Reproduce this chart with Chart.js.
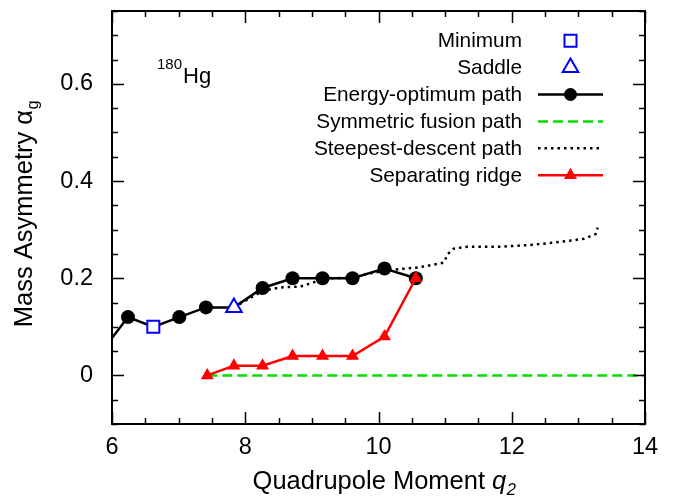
<!DOCTYPE html>
<html><head><meta charset="utf-8">
<script src="https://cdn.jsdelivr.net/npm/chart.js@4/dist/chart.umd.min.js"></script>
<style>html,body{margin:0;padding:0;background:#fff;}canvas{display:block;}</style>
</head><body>
<canvas id="c" width="673" height="497"></canvas>
<script>
// ---- data ----
const energyQ = [5.85, 6.24, 6.62, 7.01, 7.41, 7.83, 8.26, 8.71, 9.16, 9.61, 10.09, 10.56];
const energyA = [0.05, 0.12, 0.10, 0.12, 0.14, 0.14, 0.18, 0.20, 0.20, 0.20, 0.22, 0.20];
const ridgeQ = [7.43, 7.83, 8.26, 8.71, 9.16, 9.61, 10.09, 10.56];
const ridgeA = [0.00, 0.02, 0.02, 0.04, 0.04, 0.04, 0.08, 0.20];
const symQ = [7.43, 14.0];
const symA = [0.0, 0.0];
const steepQ = [7.83, 8.26, 8.53, 8.83, 9.02, 9.13, 9.62, 9.83, 10.08, 10.33, 10.59, 10.98, 11.04, 11.13, 11.34, 11.83, 12.33, 12.74, 13.08, 13.26, 13.29];
const steepA = [0.140, 0.174, 0.181, 0.183, 0.191, 0.199, 0.201, 0.209, 0.215, 0.219, 0.222, 0.232, 0.250, 0.261, 0.265, 0.265, 0.269, 0.275, 0.281, 0.291, 0.304];
const minimumQ = [6.62];
const minimumA = [0.10];
const saddleQ = [7.83];
const saddleA = [0.14];
const xTickLabels = [6, 8, 10, 12, 14];
const yTickLabels = [0, 0.2, 0.4, 0.6];
const xMinorStep = 0.5;
const yMinorStep = 0.05;
const xRange = [6, 14];
const yRange = [-0.1, 0.75];
const legendOrder = ['Minimum', 'Saddle', 'Energy-optimum path', 'Symmetric fusion path', 'Steepest-descent path', 'Separating ridge'];

const FONT = '"Liberation Sans", Arial, Helvetica, sans-serif';
const pts = (xs, ys) => xs.map((x, i) => ({ x: x, y: ys[i] }));
const isSpecial = p => (p.x === minimumQ[0] && p.y === minimumA[0]) || (p.x === saddleQ[0] && p.y === saddleA[0]);

const datasets = [
  { label: 'Minimum', data: pts(minimumQ, minimumA), showLine: false, pointStyle: 'rect',
    pointRadius: 8.5, borderColor: '#0000ff', backgroundColor: '#ffffff', pointBorderWidth: 2, order: 1 },
  { label: 'Saddle', data: pts(saddleQ, saddleA), showLine: false, pointStyle: 'triangle',
    pointRadius: 9, borderColor: '#0000ff', backgroundColor: '#ffffff', pointBorderWidth: 2, order: 0 },
  { label: 'Energy-optimum path', data: pts(energyQ, energyA), showLine: true, borderColor: '#000000',
    backgroundColor: '#000000', borderWidth: 2.5, pointStyle: 'circle', pointBorderWidth: 0,
    pointRadius: c => (c.raw && (c.raw.x < xRange[0] || isSpecial(c.raw))) ? 0 : 7, legendRadius: 6.5, order: 3 },
  { label: 'Symmetric fusion path', data: pts(symQ, symA), showLine: true, borderColor: '#00e000',
    borderWidth: 2.5, borderDash: [10, 5], pointRadius: 0, order: 5 },
  { label: 'Steepest-descent path', data: pts(steepQ, steepA), showLine: true, borderColor: '#000000',
    borderWidth: 2.5, borderDash: [2.5, 4], pointRadius: 0, order: 4 },
  { label: 'Separating ridge', data: pts(ridgeQ, ridgeA), showLine: true, borderColor: '#ff0000',
    backgroundColor: '#ff0000', borderWidth: 2.5, pointStyle: 'triangle', pointRadius: 7.5, pointBorderWidth: 0, order: 2 }
];

function marker(ctx, style, r, x, y, fill, stroke, bw) {
  ctx.save();
  ctx.fillStyle = fill; ctx.strokeStyle = stroke; ctx.lineWidth = bw; ctx.setLineDash([]);
  Chart.helpers.drawPoint(ctx, { pointStyle: style, radius: r, rotation: 0, borderWidth: bw }, x, y);
  ctx.restore();
}

const decor = {
  id: 'decor',
  afterDraw(chart) {
    const ctx = chart.ctx, a = chart.chartArea, xs = chart.scales.x, ys = chart.scales.y;
    ctx.save();
    // frame
    ctx.strokeStyle = '#000'; ctx.lineWidth = 2; ctx.setLineDash([]);
    ctx.strokeRect(a.left, a.top, a.right - a.left, a.bottom - a.top);
    // inward ticks
    ctx.lineWidth = 1.5;
    ctx.beginPath();
    for (let v = xRange[0]; v <= xRange[1] + 1e-9; v += xMinorStep) {
      const px = Math.round(xs.getPixelForValue(v)) + 0.5;
      const major = xTickLabels.some(t => Math.abs(t - v) < 1e-6);
      const len = major ? 12 : 6;
      ctx.moveTo(px, a.bottom); ctx.lineTo(px, a.bottom - len);
      ctx.moveTo(px, a.top); ctx.lineTo(px, a.top + len);
    }
    for (let k = Math.ceil(yRange[0] / yMinorStep); k * yMinorStep <= yRange[1] + 1e-9; k++) {
      const v = k * yMinorStep;
      const py = Math.round(ys.getPixelForValue(v)) + 0.5;
      const major = yTickLabels.some(t => Math.abs(t - v) < 1e-6);
      const len = major ? 12 : 6;
      ctx.moveTo(a.left, py); ctx.lineTo(a.left + len, py);
      ctx.moveTo(a.right, py); ctx.lineTo(a.right - len, py);
    }
    ctx.stroke();

    // x title
    ctx.fillStyle = '#000';
    ctx.textBaseline = 'alphabetic'; ctx.textAlign = 'left';
    const tf = '25.5px ' + FONT, tfi = 'italic 25.5px ' + FONT, tfs = 'italic 16.5px ' + FONT;
    const t1 = 'Quadrupole Moment ';
    ctx.font = tf; const w1 = ctx.measureText(t1).width;
    ctx.font = tfi; const w2 = ctx.measureText('q').width;
    ctx.font = tfs; const w3 = ctx.measureText('2').width;
    let x0 = 384 - (w1 + w2 + w3) / 2;
    const by = 489;
    ctx.font = tf; ctx.fillText(t1, x0, by);
    ctx.font = tfi; ctx.fillText('q', x0 + w1, by);
    ctx.font = tfs; ctx.fillText('2', x0 + w1 + w2 + 0.5, by + 6);

    // y title (rotated)
    ctx.save();
    ctx.translate(32, 214);
    ctx.rotate(-Math.PI / 2);
    const y1 = 'Mass Asymmetry \u03B1';
    ctx.font = tf; const yw1 = ctx.measureText(y1).width;
    ctx.font = '16.5px ' + FONT; const yw2 = ctx.measureText('g').width;
    const yx0 = -(yw1 + yw2) / 2;
    ctx.font = tf; ctx.fillText(y1, yx0, 0);
    ctx.font = '16.5px ' + FONT; ctx.fillText('g', yx0 + yw1 + 0.5, 6);
    ctx.restore();

    // 180Hg annotation
    ctx.font = '15px ' + FONT; ctx.textAlign = 'right';
    ctx.fillText('180', 182, 68.5);
    ctx.font = '22px ' + FONT; ctx.textAlign = 'left';
    ctx.fillText('Hg', 183, 82.5);

    // legend
    ctx.font = '20.8px ' + FONT; ctx.textBaseline = 'middle';
    legendOrder.forEach((name, i) => {
      const ds = chart.data.datasets.find(d => d.label === name);
      const ry = 40.7 + i * 26.9;
      ctx.fillStyle = '#000'; ctx.textAlign = 'right';
      ctx.fillText(name, 522, ry + 1);
      const lx0 = 538, lx1 = 603, mx = 570.5;
      if (ds.showLine) {
        ctx.save();
        ctx.strokeStyle = ds.borderColor; ctx.lineWidth = ds.borderWidth;
        ctx.setLineDash(ds.borderDash || []);
        ctx.beginPath(); ctx.moveTo(lx0, ry); ctx.lineTo(lx1, ry); ctx.stroke();
        ctx.restore();
      }
      const r = ds.legendRadius || (typeof ds.pointRadius === 'number' ? ds.pointRadius : 0);
      if (r > 0) {
        marker(ctx, ds.pointStyle, r, mx, ry, ds.backgroundColor || ds.borderColor, ds.borderColor, ds.pointBorderWidth || 0);
      }
    });
    ctx.restore();
  }
};

new Chart(document.getElementById('c'), {
  type: 'scatter',
  data: { datasets: datasets },
  options: {
    responsive: false, animation: false,
    layout: { padding: { top: 10, right: 28, left: 0, bottom: 0 } },
    elements: { line: { tension: 0 } },
    plugins: { legend: { display: false }, tooltip: { enabled: false } },
    scales: {
      x: {
        type: 'linear', min: xRange[0], max: xRange[1],
        afterBuildTicks: s => { s.ticks = xTickLabels.map(v => ({ value: v })); },
        afterFit: s => { s.height = 73; s.paddingLeft = 0; s.paddingRight = 0; },
        ticks: { font: { family: FONT, size: 23.5 }, color: '#000', padding: 9, maxRotation: 0, autoSkip: false },
        grid: { display: false, drawTicks: false }, border: { display: false }
      },
      y: {
        type: 'linear', min: yRange[0], max: yRange[1],
        afterBuildTicks: s => { s.ticks = yTickLabels.map(v => ({ value: v })); },
        afterFit: s => { s.width = 112; s.paddingTop = 0; s.paddingBottom = 0; },
        ticks: { font: { family: FONT, size: 23.5 }, color: '#000', padding: 19,
          callback: v => v === 0 ? '0' : v.toFixed(1) },
        grid: { display: false, drawTicks: false }, border: { display: false }
      }
    }
  },
  plugins: [decor]
});
</script>
</body></html>
